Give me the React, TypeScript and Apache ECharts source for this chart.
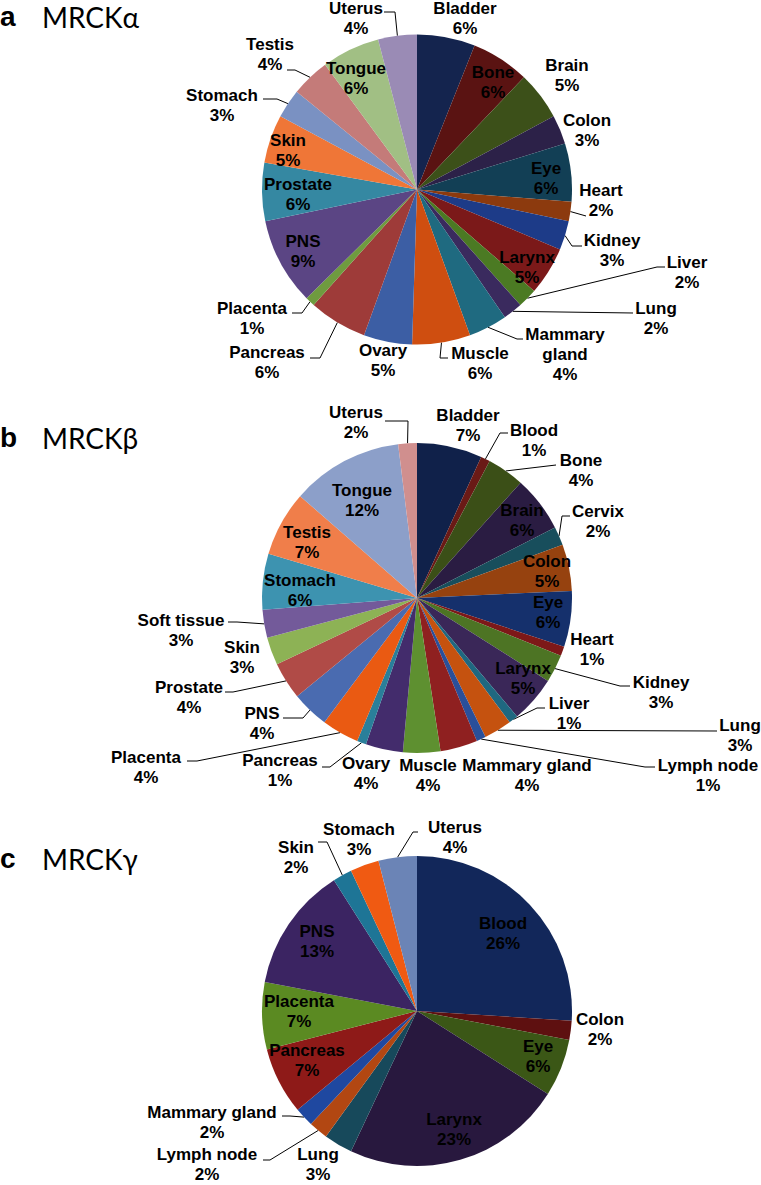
import React, { useEffect, useRef } from "react";
import * as echarts from "echarts";

// ---------- data ----------
const panelLetters = ["a", "b", "c"];
const panelTitles = ["MRCKα", "MRCKβ", "MRCKγ"];

const catA = ["Bladder", "Bone", "Brain", "Colon", "Eye", "Heart", "Kidney", "Larynx", "Liver", "Lung", "Mammary gland", "Muscle", "Ovary", "Pancreas", "Placenta", "PNS", "Prostate", "Skin", "Stomach", "Testis", "Tongue", "Uterus"];
const valA = [6, 6, 5, 3, 6, 2, 3, 5, 2, 2, 4, 6, 5, 6, 1, 9, 6, 5, 3, 4, 6, 4];

const catB = ["Bladder", "Blood", "Bone", "Brain", "Cervix", "Colon", "Eye", "Heart", "Kidney", "Larynx", "Liver", "Lung", "Lymph node", "Mammary gland", "Muscle", "Ovary", "Pancreas", "Placenta", "PNS", "Prostate", "Skin", "Soft tissue", "Stomach", "Testis", "Tongue", "Uterus"];
const valB = [7, 1, 4, 6, 2, 5, 6, 1, 3, 5, 1, 3, 1, 4, 4, 4, 1, 4, 4, 4, 3, 3, 6, 7, 12, 2];

const catC = ["Blood", "Colon", "Eye", "Larynx", "Lung", "Lymph node", "Mammary gland", "Pancreas", "Placenta", "PNS", "Skin", "Stomach", "Uterus"];
const valC = [26, 2, 6, 23, 3, 2, 2, 7, 7, 13, 2, 3, 4];

// ---------- styles ----------
const colA = ["#14244e", "#5a1312", "#3c5019", "#2c2148", "#123f55", "#8c3a0e", "#1d3b88", "#7b1919", "#4b7a23", "#3a2a5e", "#1f6a80", "#cf4e10", "#3c5ea4", "#9e3b39", "#6f9b3f", "#5b4584", "#3588a2", "#ef7637", "#7a91c2", "#c47b79", "#a1bf84", "#9a8bb5"];
const colB = ["#10214a", "#6a1a16", "#3b4f17", "#2a1c42", "#184e5c", "#96420f", "#15306c", "#7d1818", "#4d7424", "#3a2758", "#1f6880", "#c5520f", "#2a4f9a", "#8f2020", "#5e9030", "#432c6c", "#2a7f9a", "#ea5a12", "#4a6bb0", "#b04b47", "#8db255", "#735a9a", "#3d93b0", "#f07e4a", "#8c9fc9", "#d08f8e"];
const colC = ["#12275a", "#5e1010", "#3b5716", "#28183e", "#17495b", "#b24712", "#1f48a0", "#8e1a18", "#5b8a22", "#3b2462", "#1e7596", "#f05a12", "#6b84b6"];

// ---------- layout (label anchors and leader-line bends, page px) ----------
type Lbl = { x: number; y: number; line?: number[][]; wrap?: boolean };
const lblA: Lbl[] = [
  { x: 465, y: 18 },
  { x: 493, y: 82 },
  { x: 567, y: 75 },
  { x: 587, y: 130 },
  { x: 546, y: 178 },
  { x: 601, y: 200, line: [[586, 216]] },
  { x: 612, y: 250, line: [[572, 246], [582, 246]] },
  { x: 527, y: 267 },
  { x: 687, y: 272, line: [[657, 267], [665, 267]] },
  { x: 656, y: 318, line: [[633, 313]] },
  { x: 565, y: 354, line: [[517, 339], [523, 339]], wrap: true },
  { x: 480, y: 363, line: [[440, 358], [448, 358]] },
  { x: 383, y: 360 },
  { x: 267, y: 362, line: [[320, 358], [310, 358]] },
  { x: 252, y: 318, line: [[302, 313], [292, 313]] },
  { x: 303, y: 251 },
  { x: 298, y: 194 },
  { x: 288, y: 150 },
  { x: 222, y: 105, line: [[277, 99], [263, 99]] },
  { x: 270, y: 54, line: [[295, 70], [287, 70]] },
  { x: 356, y: 78 },
  { x: 356, y: 18, line: [[395, 12], [384, 12]] },
];
const lblB: Lbl[] = [
  { x: 468, y: 425 },
  { x: 534, y: 440, line: [[500, 433], [508, 433]] },
  { x: 581, y: 470, line: [[556, 465]] },
  { x: 522, y: 520 },
  { x: 598, y: 521, line: [[562, 516], [570, 516]] },
  { x: 547, y: 571 },
  { x: 548, y: 612 },
  { x: 592, y: 649 },
  { x: 661, y: 692, line: [[620, 686], [630, 686]] },
  { x: 523, y: 678 },
  { x: 569, y: 713, line: [[537, 708], [545, 708]] },
  { x: 740, y: 735, line: [[717, 731]] },
  { x: 708, y: 775, line: [[645, 767], [655, 767]] },
  { x: 527, y: 775 },
  { x: 428, y: 775 },
  { x: 366, y: 773 },
  { x: 280, y: 770, line: [[330, 767], [322, 767]] },
  { x: 146, y: 767, line: [[197, 761], [187, 761]] },
  { x: 262, y: 723, line: [[303, 718], [283, 718]] },
  { x: 189, y: 697, line: [[233, 692], [225, 692]] },
  { x: 242, y: 657 },
  { x: 181, y: 630, line: [[237, 622], [228, 622]] },
  { x: 300, y: 590 },
  { x: 307, y: 542 },
  { x: 362, y: 500 },
  { x: 356, y: 422, line: [[408, 421], [385, 421]] },
];
const lblC: Lbl[] = [
  { x: 503, y: 933 },
  { x: 600, y: 1029 },
  { x: 538, y: 1056 },
  { x: 454, y: 1129 },
  { x: 318, y: 1164 },
  { x: 207, y: 1164, line: [[270, 1160], [263, 1160]] },
  { x: 212, y: 1122, line: [[290, 1116], [282, 1116]] },
  { x: 307, y: 1060 },
  { x: 299, y: 1011 },
  { x: 317, y: 941 },
  { x: 296, y: 857, line: [[327, 842], [318, 842]] },
  { x: 359, y: 839 },
  { x: 455, y: 837, line: [[413, 832], [418, 832]] },
];

const centers = [[417, 189.5], [417, 598], [417, 1011]];
const titleY = [16, 437, 858];
const R = 155;
const W = 761;
const H = 1185;

const pies = [
  { cats: catA, vals: valA, cols: colA, lbls: lblA },
  { cats: catB, vals: valB, cols: colB, lbls: lblB },
  { cats: catC, vals: valC, cols: colC, lbls: lblC },
];

function midAngle(vals: number[], idx: number) {
  const total = vals.reduce((s, v) => s + v, 0);
  let cum = 0;
  for (let i = 0; i < idx; i++) cum += vals[i];
  return ((cum + vals[idx] / 2) / total) * Math.PI * 2;
}

export default function App() {
  const ref = useRef<HTMLDivElement>(null);
  useEffect(() => {
    if (!ref.current) return;
    const chart = echarts.init(ref.current, null, { renderer: "svg" });
    const font = '"Liberation Sans", Arial, sans-serif';

    const series = pies.map((p, si) => {
      const [cx, cy] = centers[si];
      return {
        type: "pie",
        center: [cx, cy],
        radius: [0, R],
        startAngle: 90,
        clockwise: true,
        avoidLabelOverlap: false,
        silent: true,
        itemStyle: { borderWidth: 0 },
        label: {
          show: true,
          position: "outside",
          color: "#000",
          fontFamily: font,
          fontWeight: "bold",
          fontSize: 17,
          lineHeight: 20,
          formatter: (prm: any) => {
            const L = p.lbls[prm.dataIndex];
            const name = L.wrap ? prm.name.replace(" ", "\n") : prm.name;
            return name + "\n" + prm.value + "%";
          },
        },
        labelLine: { show: true, lineStyle: { color: "#000", width: 1 }, length: 10, length2: 10 },
        labelLayout: (prm: any) => {
          const L = p.lbls[prm.dataIndex];
          const res: any = { x: L.x, y: L.y, align: "center", verticalAlign: "middle" };
          if (L.line) {
            const a = midAngle(p.vals, prm.dataIndex);
            const s = [cx + R * Math.sin(a), cy - R * Math.cos(a)];
            const pts = [s, ...L.line];
            if (pts.length < 3) pts.push(L.line[L.line.length - 1]);
            res.labelLinePoints = pts;
          }
          return res;
        },
        data: p.cats.map((c, i) => ({
          name: c,
          value: p.vals[i],
          itemStyle: { color: p.cols[i] },
          labelLine: { show: !!p.lbls[i].line },
        })),
      };
    });

    const graphic: any[] = [];
    panelLetters.forEach((l, i) => {
      graphic.push({
        type: "text",
        x: 0,
        y: titleY[i],
        style: { text: l, font: 'bold 28px "Liberation Sans", Arial, sans-serif', lineHeight: 28, fill: "#000", align: "left", verticalAlign: "middle" },
      });
      graphic.push({
        type: "text",
        x: 42,
        y: titleY[i] + 1,
        style: { text: panelTitles[i], font: '28px Lato, "Open Sans", sans-serif', lineHeight: 30, fill: "#000", align: "left", verticalAlign: "middle" },
      });
    });

    chart.setOption({
      animation: false,
      backgroundColor: "#fff",
      series,
      graphic,
    });
    return () => chart.dispose();
  }, []);
  return <div ref={ref} style={{ position: "absolute", left: 0, top: 0, width: W, height: H }} />;
}
